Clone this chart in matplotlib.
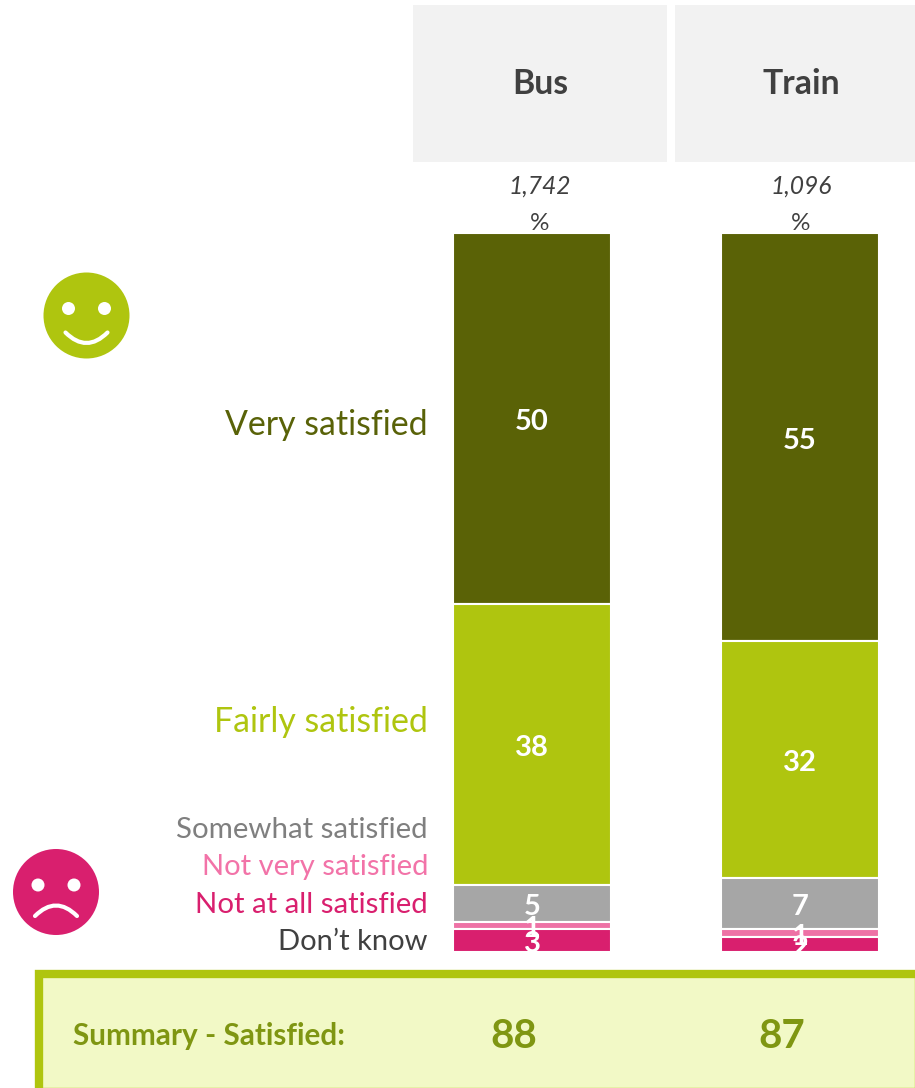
import matplotlib
matplotlib.use("Agg")
import matplotlib.pyplot as plt
from matplotlib.patches import Circle, PathPatch, Rectangle
from matplotlib.path import Path

plt.rcParams["font.family"] = ["Lato", "DejaVu Sans"]

W, H = 915, 1088

modes = ["Bus", "Train"]
bases = ["1,742", "1,096"]
summary = ["88", "87"]
categories = ["Very satisfied", "Fairly satisfied", "Somewhat satisfied",
              "Not very satisfied", "Not at all satisfied"]
bus_values = [50, 38, 5, 1, 3]
train_values = [55, 32, 7, 1, 2]
series = [bus_values, train_values]
bar_colors = ["#5A6206", "#AFC50F", "#A6A6A6", "#EE72A6", "#D91F6E"]

legend_labels = ["Very satisfied", "Fairly satisfied", "Somewhat satisfied",
                 "Not very satisfied", "Not at all satisfied", "Don\u2019t know"]
legend_colors = ["#596208", "#AFC50F", "#7F7F7F", "#F273A8", "#D91F6E", "#404040"]
legend_baselines = [435, 732, 838, 875, 913, 950]
legend_sizes = [24.4, 24.4, 21.2, 21.0, 21.2, 21.0]

fig = plt.figure(figsize=(W / 100, H / 100), dpi=100, facecolor="white")

# Page layer in pixel units, origin top-left.
page = fig.add_axes([0, 0, 1, 1])
page.set_xlim(0, W)
page.set_ylim(H, 0)
page.axis("off")

# Column headers.
header_spans = [(413, 667), (675, 915)]
header_centres = [540, 801]
for (x0, x1), cx, mode, base in zip(header_spans, header_centres, modes, bases):
    page.add_patch(Rectangle((x0, 5), x1 - x0, 157, fc="#F2F2F2", ec="none"))
    page.text(cx, 84, mode, ha="center", va="center", fontsize=24.3,
              fontweight="bold", color="#404040")
    page.text(cx, 186, base, ha="center", va="center", fontsize=17.7,
              style="italic", color="#404040")
    page.text(cx, 224, "%", ha="center", va="center", fontsize=17.5, color="#404040")

# Category labels.
for label, colour, y, size in zip(legend_labels, legend_colors, legend_baselines, legend_sizes):
    page.text(428, y, label, ha="right", va="baseline", fontsize=size, color=colour)


def face(cx, cy, fill, happy):
    page.add_patch(Circle((cx, cy), 43, fc=fill, ec="none"))
    eye_y = cy - 7
    for dx in (-18, 18):
        page.add_patch(Circle((cx + dx, eye_y), 6.5, fc="white", ec="none"))
    if happy:
        verts = [(cx - 21, cy + 17), (cx, cy + 38), (cx + 21, cy + 17)]
    else:
        verts = [(cx - 21, cy + 24), (cx, cy + 3), (cx + 21, cy + 24)]
    page.add_patch(PathPatch(Path(verts, [Path.MOVETO, Path.CURVE3, Path.CURVE3]),
                             fc="none", ec="white", lw=3, capstyle="round"))


face(86.5, 315.5, "#AFC50F", True)
face(56, 892, "#D91F6E", False)

# Summary strip.
page.add_patch(Rectangle((39, 974), 880, 118, fc="#F2F9C6", ec="#AFC50F", lw=6))
page.text(73, 1036, "Summary - Satisfied:", ha="left", va="center", fontsize=21.4,
          fontweight="bold", color="#7F9612")
for x, value in zip([514, 782], summary):
    page.text(x, 1037, value, ha="center", va="center", fontsize=29,
              fontweight="bold", color="#7F9612")

# Stacked bars: x axis is in pixels, y axis runs 0-97 from bar foot to bar top.
bar_top, bar_foot = 233.4, 951.6
chart = fig.add_axes([0, 1 - bar_foot / H, 1, (bar_foot - bar_top) / H])
chart.set_xlim(0, W)
chart.set_ylim(97, 0)
chart.axis("off")
chart.patch.set_alpha(0)

bar_centres = [532, 800]
for cx, values in zip(bar_centres, series):
    top = 0
    for value, colour in zip(values, bar_colors):
        chart.bar(cx, value, width=157.5, bottom=top, color=colour,
                  edgecolor="white", linewidth=1.5)
        chart.annotate(str(value), (cx, top + value / 2), xytext=(0, -2.6),
                       textcoords="offset points", ha="center", va="center",
                       fontsize=21, fontweight="bold", color="white")
        top += value

fig.savefig("out.png", dpi=100, facecolor="white")
